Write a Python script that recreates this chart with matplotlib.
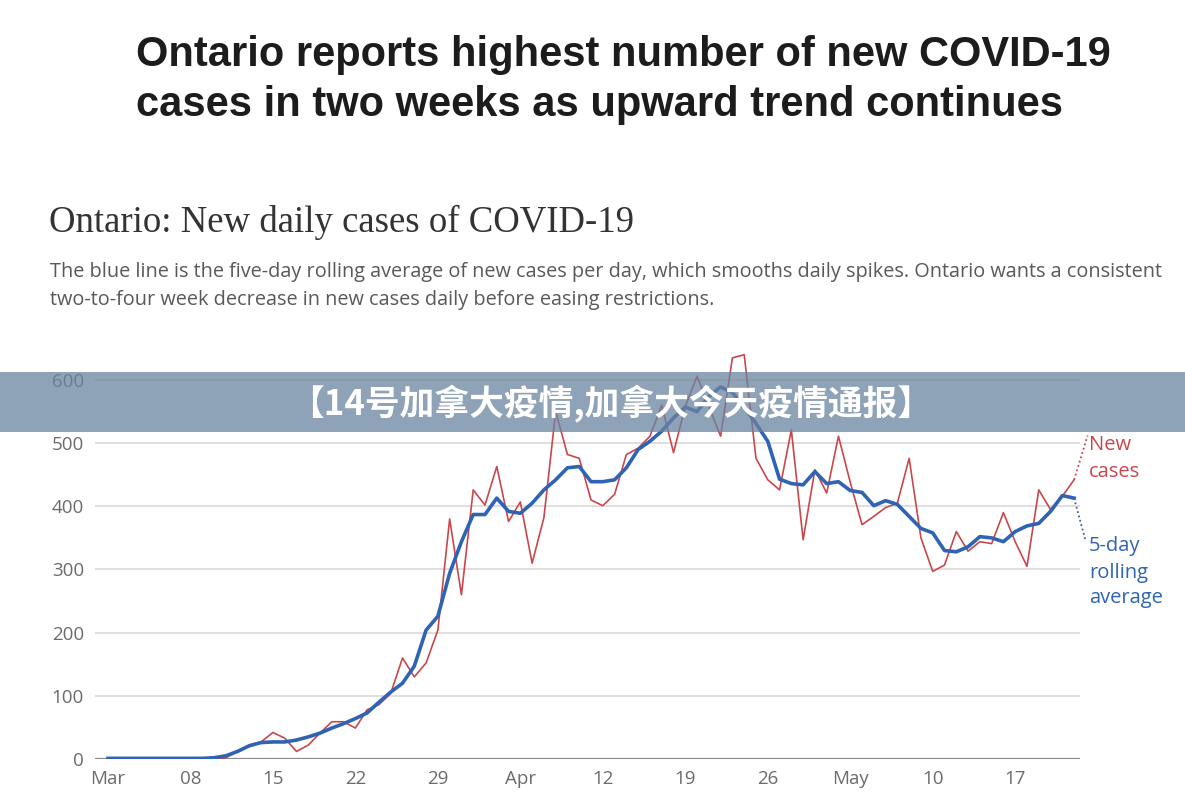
import matplotlib
matplotlib.use("Agg")
import matplotlib.pyplot as plt
from matplotlib.patches import Rectangle

# ---------------- data ----------------
tick_days = [0, 7, 14, 21, 28, 35, 42, 49, 56, 63, 70, 77]
tick_labels = ["Mar", "08", "15", "22", "29", "Apr", "12", "19", "26", "May", "10", "17"]

new_cases = [0, 0, 0, 1, 0, 2, 0, 1, 1, 0,
             2, 12, 22, 27, 42, 33, 12, 22, 41, 59,
             59, 49, 78, 86, 104, 160, 130, 152, 204, 380,
             260, 426, 402, 463, 376, 407, 310, 382, 550, 482,
             476, 410, 401, 419, 482, 492, 511, 560, 485, 558,
             606, 558, 511, 635, 640, 476, 442, 426, 521, 347,
             458, 421, 511, 438, 371, 384, 398, 405, 476, 350,
             297, 307, 360, 329, 344, 341, 390, 344, 305, 426,
             395, 416, 442]

rolling_avg = [1, 1, 1, 1, 1, 1, 1, 1, 1, 2,
               5, 12, 21, 26, 27, 27, 30, 35, 41, 49,
               56, 64, 73, 90, 106, 120, 147, 204, 226, 294,
               344, 387, 387, 413, 392, 389, 405, 426, 442, 461,
               463, 439, 439, 442, 461, 490, 503, 519, 540, 557,
               550, 574, 589, 580, 557, 531, 503, 443, 436, 434,
               455, 436, 439, 425, 422, 401, 409, 403, 384, 365,
               358, 330, 328, 336, 352, 350, 344, 360, 369, 373,
               392, 417, 413]

days = list(range(len(new_cases)))

y_ticks = [0, 100, 200, 300, 400, 500, 600]

RED = "#c9474c"
BLUE = "#2f63b3"
GRID = "#dcdcdc"
TXT = "#6b6b6b"

W, H = 1185, 805
fig = plt.figure(figsize=(W / 100, H / 100), dpi=100)
fig.patch.set_facecolor("white")

def fx(px):
    return px / W

def fy(py):
    return 1 - py / H

# axes: left 95px, right 1080px, bottom 759px, top 340px
ax = fig.add_axes([fx(95), fy(759), fx(1080) - fx(95), fy(340) - fy(759)])
ax.set_xlim(-1.10, 82.5)
ax.set_ylim(0, 663.3)
for s in ax.spines.values():
    s.set_visible(False)
ax.set_xticks(tick_days)
ax.set_xticklabels(tick_labels)
ax.set_yticks(y_ticks)
ax.set_yticklabels([str(v) for v in y_ticks])
ax.tick_params(axis="both", length=0, labelsize=13.5, labelcolor=TXT)
ax.tick_params(axis="x", pad=8)
ax.tick_params(axis="y", pad=8)
for lab in ax.get_xticklabels() + ax.get_yticklabels():
    lab.set_family("Open Sans")

for v in y_ticks[1:]:
    ax.axhline(v, color=GRID, lw=1.3, zorder=1)
ax.axhline(0, color="#8a8a8a", lw=1.6, zorder=1)

ax.plot(days, new_cases, color=RED, lw=1.2, zorder=3)
ax.plot(days, rolling_avg, color=BLUE, lw=2.6, zorder=4)

# leader lines and labels
last = days[-1]
ax.plot([last, last + 1.15], [new_cases[-1], 512], color=RED, lw=1.3,
        ls=(0, (1, 1.5)), clip_on=False, zorder=3)
ax.plot([last, last + 0.95], [rolling_avg[-1], 347], color=BLUE, lw=1.3,
        ls=(0, (1, 1.5)), clip_on=False, zorder=3)

lab_kw = dict(fontsize=14.5, family="Open Sans", ha="left", va="baseline",
              transform=fig.transFigure)
fig.text(fx(1089), fy(450), "New", color=RED, **lab_kw)
fig.text(fx(1089), fy(477), "cases", color=RED, **lab_kw)
fig.text(fx(1089), fy(551), "5-day", color=BLUE, **lab_kw)
fig.text(fx(1089), fy(578), "rolling", color=BLUE, **lab_kw)
fig.text(fx(1089), fy(603), "average", color=BLUE, **lab_kw)

# headline
fig.text(fx(136), fy(66), "Ontario reports highest number of new COVID-19",
         fontsize=30, fontweight="bold", family="Liberation Sans", color="#1c1c1c")
fig.text(fx(136), fy(116), "cases in two weeks as upward trend continues",
         fontsize=30, fontweight="bold", family="Liberation Sans", color="#1c1c1c")

# chart title and description
fig.text(fx(49), fy(232), "Ontario: New daily cases of COVID-19",
         fontsize=26.5, family="Liberation Serif", color="#333333")
fig.text(fx(50), fy(277),
         "The blue line is the five-day rolling average of new cases per day, which smooths daily spikes. Ontario wants a consistent",
         fontsize=14.3, family="Open Sans", color="#595959")
fig.text(fx(50), fy(305),
         "two-to-four week decrease in new cases daily before easing restrictions.",
         fontsize=14.3, family="Open Sans", color="#595959")

# overlay banner
fig.patches.append(Rectangle((0, fy(432)), 1, fy(372) - fy(432), transform=fig.transFigure,
                             facecolor="#6a84a0", alpha=0.75, edgecolor="none", zorder=10))
fig.text(fx(611), fy(403), "【14号加拿大疫情,加拿大今天疫情通报】",
         fontsize=25, fontweight="bold", family=["Noto Sans CJK SC", "DejaVu Sans"],
         color="white", ha="center", va="center", zorder=11)

fig.savefig("out.png", dpi=100, facecolor="white")
